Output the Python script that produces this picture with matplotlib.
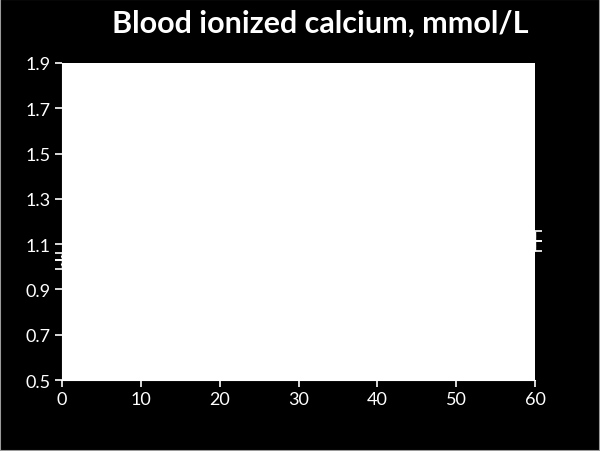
import matplotlib
matplotlib.use("Agg")
import matplotlib.pyplot as plt
from matplotlib.patches import Rectangle

# Data
time_min = [0, 60]
series_a_mean = [1.045, 1.136]
series_a_err = [0.015, 0.022]
series_b_mean = [1.01, 1.092]
series_b_err = [0.02, 0.022]
x_ticks = [0, 10, 20, 30, 40, 50, 60]
y_ticks = [0.5, 0.7, 0.9, 1.1, 1.3, 1.5, 1.7, 1.9]
title = "Blood ionized calcium, mmol/L"

plt.rcParams['font.family'] = ['Lato', 'DejaVu Sans']

fig = plt.figure(figsize=(6.0, 4.52), dpi=100, facecolor='black')
ax = fig.add_axes([62/600, 1 - 381/452, (535-62)/600, (381-64)/452])
ax.set_facecolor('white')

for m, e in ((series_a_mean, series_a_err), (series_b_mean, series_b_err)):
    ax.errorbar(time_min, m, yerr=e, color='white', ecolor='white',
                capsize=5, elinewidth=1.0, capthick=1.2, lw=1.5,
                clip_on=False)

ax.set_xlim(0, 60)
ax.set_ylim(0.5, 1.9)
ax.set_xticks(x_ticks)
ax.set_yticks(y_ticks)
ax.set_xticklabels([str(v) for v in x_ticks])
ax.set_yticklabels([f"{v:.1f}" for v in y_ticks])
ax.tick_params(colors='white', labelcolor='white', labelsize=13,
               direction='out', length=5, width=1.2, pad=3)
for s in ('top', 'right'):
    ax.spines[s].set_visible(False)
for s in ('left', 'bottom'):
    ax.spines[s].set_color('white')

fig.text(320/600, 1 - 24/452, title, color='white', fontsize=22,
         fontweight='bold', ha='center', va='center')

fig.patches.append(Rectangle((0, 0), 1, 1, transform=fig.transFigure,
                             fill=False, edgecolor='#9a9a9a', lw=1.5))

fig.savefig('out.png', dpi=100, facecolor='black')
